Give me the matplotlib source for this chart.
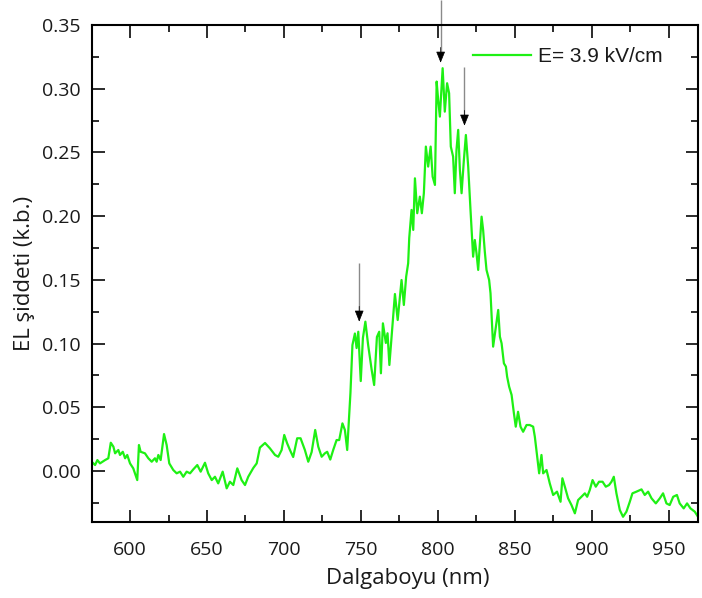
import matplotlib
matplotlib.use("Agg")
import matplotlib.pyplot as plt
from matplotlib.ticker import MultipleLocator, FormatStrFormatter

# EL spectrum, wavelength (nm) vs intensity (arb. units)
wavelength = [
    575.1, 577.3, 578.8, 580.5, 583.8, 585.9, 587.5, 589.2, 590.3, 592.4,
    593.5, 595.3, 596.8, 598.2, 600.0, 602.1, 604.7, 605.8, 606.9, 609.7,
    611.9, 614.1, 616.2, 617.3, 618.4, 619.9, 622.1, 623.8, 625.5, 628.1,
    630.3, 632.5, 634.6, 636.8, 639.0, 641.1, 643.7, 645.9, 648.7, 650.8,
    653.1, 655.2, 657.3, 660.2, 662.8, 664.9, 667.1, 669.7, 672.5, 674.7,
    676.8, 680.1, 682.3, 684.4, 687.7, 690.9, 694.2, 696.3, 698.5, 700.2,
    702.1, 703.9, 706.0, 708.6, 710.8, 713.6, 715.8, 718.0, 720.3, 722.3,
    724.5, 726.6, 728.1, 730.1, 732.0, 734.2, 735.9, 738.0, 739.6, 741.1,
    742.4, 743.2, 744.5, 746.1, 747.2, 748.3, 749.9, 751.3, 752.9, 754.7,
    757.0, 758.6, 760.4, 761.9, 763.0, 764.3, 766.2, 767.3, 768.5, 770.1,
    772.1, 773.9, 776.4, 777.9, 779.4, 780.7, 781.4, 782.9, 784.0, 785.1,
    786.6, 788.3, 789.6, 790.9, 792.2, 793.7, 795.3, 796.6, 798.1, 799.2,
    800.2, 801.3, 802.4, 803.1, 804.5, 806.0, 807.3, 808.4, 809.9, 811.0,
    812.1, 813.2, 814.3, 815.4, 816.9, 818.2, 819.7, 821.2, 822.9, 824.0,
    825.1, 826.2, 827.3, 828.4, 829.4, 830.5, 831.6, 833.3, 834.2, 835.9,
    837.7, 839.2, 840.3, 841.4, 842.9, 844.2, 845.0, 846.3, 847.9, 849.4,
    850.6, 852.1, 853.7, 855.4, 857.6, 859.7, 861.9, 863.0, 864.5, 865.8,
    867.3, 868.4, 870.6, 872.7, 874.9, 877.4, 879.7, 880.9, 882.5, 884.6,
    886.8, 889.0, 891.1, 893.3, 895.5, 897.0, 898.7, 900.5, 902.6, 904.7,
    907.0, 909.1, 911.2, 912.8, 914.3, 916.0, 918.2, 920.3, 922.5, 924.7,
    926.4, 929.0, 932.3, 934.4, 936.6, 938.8, 941.6, 944.2, 946.3, 948.5,
    950.6, 952.9, 955.3, 957.1, 959.7, 961.9, 964.1, 966.9, 969.0,
]
intensity = [
    0.0073, 0.0047, 0.0086, 0.0060, 0.0086, 0.0100, 0.0222, 0.0191, 0.0139, 0.0165,
    0.0126, 0.0151, 0.0100, 0.0126, 0.0060, 0.0021, -0.0071, 0.0204, 0.0151, 0.0139,
    0.0100, 0.0073, 0.0100, 0.0073, 0.0126, 0.0086, 0.0290, 0.0204, 0.0060, 0.0008,
    -0.0018, -0.0005, -0.0045, -0.0005, -0.0018, 0.0013, 0.0047, -0.0005, 0.0065, -0.0018,
    -0.0071, -0.0045, -0.0097, -0.0005, -0.0136, -0.0084, -0.0110, 0.0021, -0.0071, -0.0110,
    -0.0045, 0.0024, 0.0060, 0.0184, 0.0220, 0.0178, 0.0126, 0.0112, 0.0165, 0.0283,
    0.0217, 0.0165, 0.0110, 0.0257, 0.0257, 0.0165, 0.0073, 0.0149, 0.0322, 0.0191,
    0.0112, 0.0139, 0.0151, 0.0090, 0.0165, 0.0243, 0.0243, 0.0374, 0.0322, 0.0165,
    0.0440, 0.0612, 0.0989, 0.1079, 0.0965, 0.1093, 0.0706, 0.1044, 0.1172, 0.0989,
    0.0793, 0.0675, 0.1052, 0.1093, 0.0767, 0.1159, 0.1005, 0.1081, 0.0832, 0.1083,
    0.1389, 0.1185, 0.1499, 0.1303, 0.1525, 0.1630, 0.1829, 0.2049, 0.1892, 0.2297,
    0.2023, 0.2153, 0.2023, 0.2180, 0.2546, 0.2389, 0.2546, 0.2310, 0.2245, 0.3056,
    0.2912, 0.2781, 0.3016, 0.3161, 0.2820, 0.3043, 0.2965, 0.2546, 0.2467, 0.2180,
    0.2520, 0.2677, 0.2363, 0.2180, 0.2441, 0.2637, 0.2389, 0.2049, 0.1682, 0.1813,
    0.1709, 0.1578, 0.1787, 0.1996, 0.1892, 0.1721, 0.1578, 0.1499, 0.1395, 0.0976,
    0.1133, 0.1264, 0.1054, 0.1002, 0.0845, 0.0819, 0.0740, 0.0662, 0.0597, 0.0453,
    0.0348, 0.0465, 0.0348, 0.0308, 0.0361, 0.0361, 0.0348, 0.0269, 0.0112, -0.0018,
    0.0126, -0.0018, 0.0008, -0.0097, -0.0188, -0.0162, -0.0241, -0.0057, -0.0123, -0.0214,
    -0.0267, -0.0332, -0.0228, -0.0202, -0.0175, -0.0202, -0.0149, -0.0071, -0.0123, -0.0084,
    -0.0084, -0.0123, -0.0110, -0.0084, -0.0045, -0.0175, -0.0306, -0.0359, -0.0319, -0.0241,
    -0.0175, -0.0162, -0.0144, -0.0188, -0.0162, -0.0214, -0.0254, -0.0214, -0.0175, -0.0254,
    -0.0267, -0.0202, -0.0188, -0.0254, -0.0293, -0.0254, -0.0293, -0.0319, -0.0359,
]

# Marked peaks: x position, arrow top, arrow tip
arrow_x = [801.8, 817.3, 748.9]
arrow_top = [0.3700, 0.3174, 0.1630]
arrow_tip = [0.3204, 0.2710, 0.1172]

series_label = "E= 3.9 kV/cm"
x_label = "Dalgaboyu (nm)"
y_label = "EL şiddeti (k.b.)"

TEXT = "#1a1a1a"

fig = plt.figure(figsize=(7.02, 5.98), dpi=100)
ax = fig.add_axes([92 / 702, 1 - 522 / 598, 606 / 702, 497 / 598])

ax.plot(wavelength, intensity, color="#1ef014", lw=1.6, label=series_label)

ax.set_xlim(575.3, 969.0)
ax.set_ylim(-0.04, 0.35)

ax.xaxis.set_major_locator(MultipleLocator(50))
ax.xaxis.set_minor_locator(MultipleLocator(25))
ax.yaxis.set_major_locator(MultipleLocator(0.05))
ax.yaxis.set_minor_locator(MultipleLocator(0.025))
ax.yaxis.set_major_formatter(FormatStrFormatter("%.2f"))

for s in ax.spines.values():
    s.set_linewidth(1.5)
ax.tick_params(which="both", direction="in", top=True, right=True, width=1.3,
               labelsize=14, colors=TEXT)
ax.tick_params(which="major", length=9)
ax.tick_params(which="minor", length=5)
ax.tick_params(axis="x", pad=14)
ax.tick_params(axis="y", pad=8)
for lab in ax.get_xticklabels() + ax.get_yticklabels():
    lab.set_fontfamily("Open Sans")

ax.set_xlabel(x_label, fontsize=16, family="Open Sans", color=TEXT)
ax.set_ylabel(y_label, fontsize=16, family="Open Sans", color=TEXT)
ax.xaxis.set_label_coords((408 - 92) / 606, -(568 - 522) / 497)
ax.yaxis.set_label_coords(-(92 - 35) / 606, 0.5)

# arrows marking the peaks: gray shaft, black head
for x, top, tip in zip(arrow_x, arrow_top, arrow_tip):
    ax.plot([x, x], [top, tip + 0.006], color="#8a8a8a", lw=1.0, clip_on=False,
            solid_capstyle="butt")
    ax.annotate("", xy=(x, tip), xytext=(x, tip + 0.012),
                arrowprops=dict(arrowstyle="-|>,head_length=0.7,head_width=0.28",
                                fc="black", ec="black", lw=0.5,
                                shrinkA=0, shrinkB=0),
                annotation_clip=False)

leg = ax.legend(loc="center left", bbox_to_anchor=((473 - 92) / 606, 1 - (57 - 25) / 497),
                frameon=False, borderpad=0, borderaxespad=0, handlelength=2.8,
                handletextpad=0.3, prop={"family": "Liberation Sans", "size": 15})
for t in leg.get_texts():
    t.set_color(TEXT)

fig.savefig("out.png", dpi=100)
